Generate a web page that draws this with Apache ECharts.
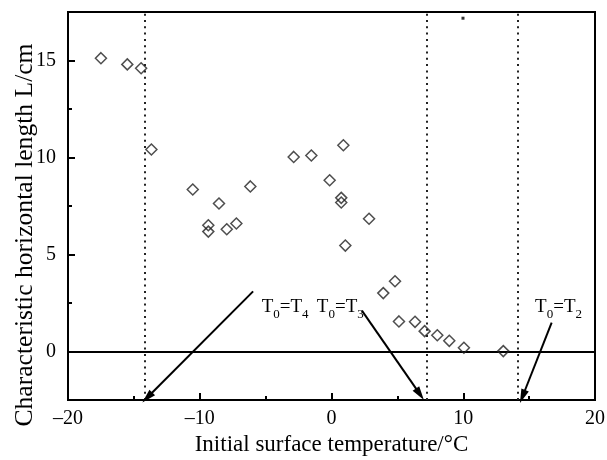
<!DOCTYPE html>
<html>
<head>
<meta charset="utf-8">
<script src="https://cdn.jsdelivr.net/npm/echarts@6/dist/echarts.min.js"></script>
<style>html,body{margin:0;padding:0;background:#fff}#c{width:607px;height:460px}</style>
</head>
<body>
<div id="c"></div>
<script>
// Data
const temps   = [-17.5, -15.5, -14.45, -13.67, -10.53, -8.54, -9.35, -9.35, -7.95, -7.22, -6.16, -2.87, -1.53, 0.90, -0.14, 0.74, 0.74, 2.85, 1.05, 4.82, 3.93, 5.12, 6.34, 7.07, 8.03, 8.94, 10.05, 13.04];
const lengths = [15.12, 14.8, 14.6, 10.41, 8.35, 7.63, 6.51, 6.18, 6.30, 6.60, 8.51, 10.03, 10.10, 10.63, 8.83, 7.92, 7.68, 6.84, 5.46, 3.62, 3.01, 1.55, 1.53, 1.05, 0.84, 0.55, 0.19, 0.02];
const strayDot = [[9.98, 17.18]];

const criticalTemps = [-14.2, 7.2, 14.1];
const criticalNames = ['4', '3', '2'];
const arrowTails = [[-5.95, 3.1], [2.31, 2.11], [16.71, 1.49]];
const arrowHeads = [[-13.98, -2.37], [6.71, -2.2], [14.5, -2.32]];
const labelAnchors = [[-5.3, 2.26], [2.45, 2.26], [15.45, 2.26]];
const labelSides = ['right', 'left', 'right'];

const xMinorTicks = [-15, -5, 5, 15];
const yMajorTicks = [0, 5, 10, 15];
const yMinorTicks = [2.5, 7.5, 12.5];

const FONT = '"Liberation Serif", "Times New Roman", serif';
const chart = echarts.init(document.getElementById('c'), null, {renderer: 'canvas'});

const points = temps.map((t, i) => [t, lengths[i]]);

const markLineData = [];
markLineData.push({yAxis: 0, lineStyle: {type: 'solid', width: 2, color: '#000'}});
criticalTemps.forEach(t => markLineData.push({xAxis: t, lineStyle: {type: [2, 4.3], width: 2, color: '#222'}}));
arrowTails.forEach((tail, i) => {
  markLineData.push([
    {coord: tail, symbol: 'none', lineStyle: {type: 'solid', width: 2, color: '#000'}},
    {coord: arrowHeads[i], symbol: 'triangle', symbolSize: [8, 14]}
  ]);
});

const markPointData = labelAnchors.map((p, i) => ({
  coord: p,
  symbol: 'circle',
  symbolSize: 0,
  itemStyle: {color: 'rgba(0,0,0,0)'},
  label: {
    show: true,
    position: labelSides[i],
    distance: 0,
    formatter: '{a|T}{s|0}{a|=T}{s|' + criticalNames[i] + '}'
  }
}));

const axisCommon = {
  type: 'value',
  splitLine: {show: false},
};

chart.setOption({
  animation: false,
  backgroundColor: '#fff',
  grid: {left: 68, right: 12, top: 12, bottom: 60, show: true, borderColor: '#000', borderWidth: 2,
         containLabel: false, outerBoundsMode: 'none'},
  graphic: [{
    type: 'text',
    x: 25, y: 235,
    rotation: Math.PI / 2,
    style: {
      text: 'Characteristic horizontal length L/cm',
      font: '25.6px "Liberation Serif", "Times New Roman", serif',
      fill: '#000',
      align: 'center',
      verticalAlign: 'middle'
    }
  }],
  xAxis: [
    Object.assign({}, axisCommon, {
      min: -20, max: 20, interval: 10, position: 'bottom',
      axisLine: {show: true, onZero: false, lineStyle: {color: '#000', width: 2}},
      axisTick: {show: true, inside: true, length: 7, lineStyle: {color: '#000', width: 2}},
      axisLabel: {show: true, margin: 9, fontFamily: FONT, fontSize: 20, color: '#000',
        formatter: v => (v < 0 ? '\u2013' + Math.abs(v) : String(v))},
      name: 'Initial surface temperature/\u00b0C',
      nameLocation: 'middle', nameGap: 27,
      nameTextStyle: {fontFamily: FONT, fontSize: 23, color: '#000'}
    }),
    Object.assign({}, axisCommon, {
      min: -20, max: 20, interval: 5, position: 'bottom',
      axisLine: {show: false, onZero: false},
      axisTick: {show: true, inside: true, length: 4, customValues: xMinorTicks, lineStyle: {color: '#000', width: 2}},
      axisLabel: {show: false}
    })
  ],
  yAxis: [
    Object.assign({}, axisCommon, {
      min: -2.5, max: 17.5, interval: 2.5, position: 'left',
      axisLine: {show: true, onZero: false, lineStyle: {color: '#000', width: 2}},
      axisTick: {show: true, inside: true, length: 7, customValues: yMajorTicks, lineStyle: {color: '#000', width: 2}},
      axisLabel: {show: true, margin: 12, customValues: yMajorTicks, fontFamily: FONT, fontSize: 20, color: '#000'}
    }),
    Object.assign({}, axisCommon, {
      min: -2.5, max: 17.5, interval: 2.5, position: 'left',
      axisLine: {show: false, onZero: false},
      axisTick: {show: true, inside: true, length: 4, customValues: yMinorTicks, lineStyle: {color: '#000', width: 2}},
      axisLabel: {show: false}
    })
  ],
  series: [
    {
      type: 'scatter',
      name: 'L',
      xAxisIndex: 0, yAxisIndex: 0,
      data: points,
      symbol: 'diamond',
      symbolSize: 11,
      itemStyle: {color: 'rgba(255,255,255,0)', borderColor: '#222', borderWidth: 1.5},
      z: 5,
      markLine: {
        silent: true,
        symbol: 'none',
        label: {show: false},
        emphasis: {disabled: true},
        data: markLineData,
        z: 3
      },
      markPoint: {
        silent: true,
        label: {
          color: '#000',
          rich: {
            a: {fontFamily: FONT, fontSize: 19, color: '#000', lineHeight: 20, verticalAlign: 'top'},
            s: {fontFamily: FONT, fontSize: 13, color: '#000', lineHeight: 13, padding: [10, 0, 0, 0], verticalAlign: 'top'}
          }
        },
        data: markPointData
      }
    },
    {
      type: 'scatter',
      name: 'dot',
      xAxisIndex: 0, yAxisIndex: 0,
      data: strayDot,
      symbol: 'rect',
      symbolSize: 3,
      itemStyle: {color: '#000'},
      z: 4
    }
  ]
});
</script>
</body>
</html>
